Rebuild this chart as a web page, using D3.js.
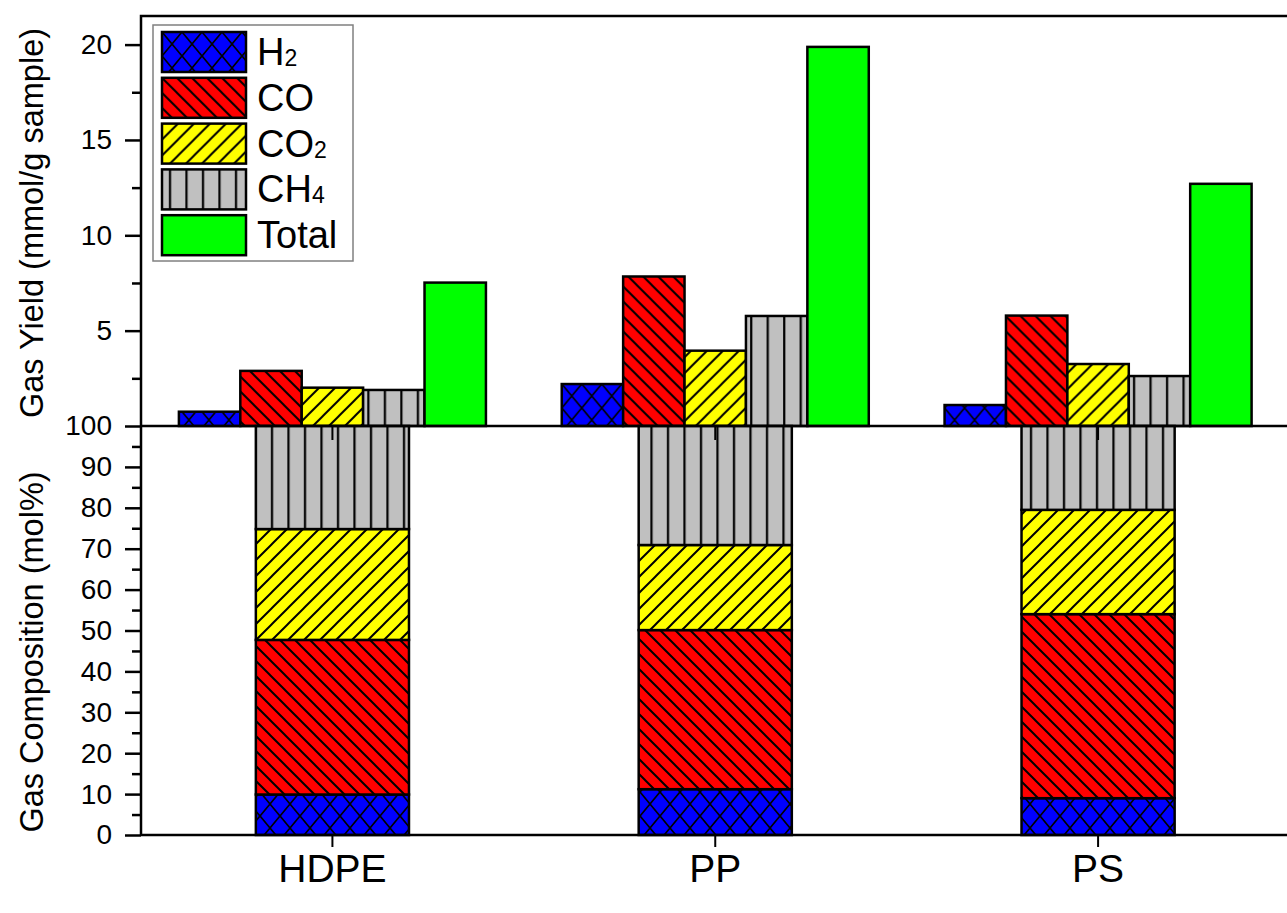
<!DOCTYPE html>
<html>
<head>
<meta charset="utf-8">
<script src="https://cdn.jsdelivr.net/npm/d3@7/dist/d3.min.js"></script>
<style>
  html, body { margin: 0; padding: 0; background: #fff; }
  svg { display: block; font-family: "Liberation Sans", Arial, sans-serif; }
</style>
</head>
<body>
<svg id="chart" width="1287" height="913"></svg>
<script>
// Plastics and gases
const categories = ["HDPE", "PP", "PS"];
const gasKeys = ["H2", "CO", "CO2", "CH4"];
const yieldKeys = ["H2", "CO", "CO2", "CH4", "Total"];

// Gas yield (mmol/g sample)
const yieldH2    = [0.75, 2.20, 1.10];
const yieldCO    = [2.89, 7.84, 5.79];
const yieldCO2   = [2.01, 3.95, 3.25];
const yieldCH4   = [1.89, 5.77, 2.62];
const yieldTotal = [7.52, 19.88, 12.70];

// Gas composition (mol%)
const compH2  = [9.9, 11.2, 9.0];
const compCO  = [37.8, 38.9, 45.0];
const compCO2 = [27.1, 20.8, 25.5];
const compCH4 = [25.2, 29.1, 20.5];

// Axis ticks
const yieldTicks = [5, 10, 15, 20];
const yieldMinor = [2.5, 7.5, 12.5, 17.5];
const compTicks = [0, 10, 20, 30, 40, 50, 60, 70, 80, 90, 100];
const compMinor = [5, 15, 25, 35, 45, 55, 65, 75, 85, 95];

// Legend labels: [main text, subscript]
const legendLabels = [["H", "2"], ["CO", ""], ["CO", "2"], ["CH", "4"], ["Total", ""]];

const yieldTable = categories.map((c, i) => ({
  cat: c, H2: yieldH2[i], CO: yieldCO[i], CO2: yieldCO2[i], CH4: yieldCH4[i], Total: yieldTotal[i]
}));
const compTable = categories.map((c, i) => ({
  cat: c, H2: compH2[i], CO: compCO[i], CO2: compCO2[i], CH4: compCH4[i]
}));

const svg = d3.select("#chart");
const W = 1287, H = 913;

// Frame geometry
const frameL = 141, frameR = 1289.5, frameT = 16, frameM = 426, frameB = 835;

const x = d3.scaleBand().domain(categories).range([frameL, frameR]).padding(0);
const xGroup = d3.scaleBand().domain(yieldKeys).range([0, x.bandwidth() * 0.802]).padding(0);
const stackWidth = x.bandwidth() * 0.40;

const yTop = d3.scaleLinear().domain([0, 21.5]).range([frameM, frameT]);
const yBot = d3.scaleLinear().domain([0, 100]).range([frameB, frameM]);

// Fill patterns
const defs = svg.append("defs");
function pattern(id, w, h, fill, d, sw) {
  const p = defs.append("pattern").attr("id", id)
    .attr("patternUnits", "userSpaceOnUse").attr("width", w).attr("height", h);
  p.append("rect").attr("width", w).attr("height", h).attr("fill", fill);
  if (d) p.append("path").attr("d", d).attr("stroke", "#000").attr("stroke-width", sw).attr("fill", "none");
}
pattern("pat-H2", 20, 24, "#0000ff", "M0,0L20,24M20,0L0,24", 1.7);
pattern("pat-CO", 15, 15, "#ff0000", "M-2,-2L17,17M-2,13L2,17M13,-2L17,2", 2);
pattern("pat-CO2", 16, 16, "#ffff00", "M-2,18L18,-2M-2,2L2,-2M14,18L18,14", 2);
pattern("pat-CH4", 16.5, 10, "#c0c0c0", "M8,-1V11", 2.2);
const fills = { H2: "url(#pat-H2)", CO: "url(#pat-CO)", CO2: "url(#pat-CO2)", CH4: "url(#pat-CH4)", Total: "#00ff00" };

// Top panel: grouped yield bars
const groupOffset = (x.bandwidth() - xGroup.range()[1]) / 2;
svg.append("g").selectAll("g").data(yieldTable).join("g")
  .attr("transform", d => `translate(${x(d.cat) + groupOffset},0)`)
  .selectAll("rect").data(d => yieldKeys.map(k => ({ key: k, value: d[k] }))).join("rect")
  .attr("x", d => xGroup(d.key))
  .attr("y", d => yTop(d.value))
  .attr("width", xGroup.bandwidth())
  .attr("height", d => yTop(0) - yTop(d.value))
  .attr("fill", d => fills[d.key])
  .attr("stroke", "#000").attr("stroke-width", 2.5);

// Bottom panel: stacked composition bars
const stack = d3.stack().keys(gasKeys)(compTable);
svg.append("g").selectAll("g").data(stack).join("g")
  .attr("fill", s => fills[s.key])
  .selectAll("rect").data(s => s).join("rect")
  .attr("x", d => x(d.data.cat) + (x.bandwidth() - stackWidth) / 2)
  .attr("y", d => yBot(d[1]))
  .attr("width", stackWidth)
  .attr("height", d => yBot(d[0]) - yBot(d[1]))
  .attr("stroke", "#000").attr("stroke-width", 2.5);

// Frame lines
const frame = svg.append("g").attr("stroke", "#000").attr("stroke-width", 2.5).attr("fill", "none");
frame.append("path").attr("d", `M${frameL},${frameB}V${frameT}H${W + 5}`);
frame.append("line").attr("x1", frameL).attr("x2", W + 5).attr("y1", frameM).attr("y2", frameM);
frame.append("line").attr("x1", frameL).attr("x2", W + 5).attr("y1", frameB).attr("y2", frameB);

// Y axes
function styleAxis(g) {
  g.select(".domain").remove();
  g.selectAll(".tick line").attr("stroke", "#000").attr("stroke-width", 2.5);
  g.selectAll(".tick text").attr("fill", "#000").attr("font-size", 28)
    .attr("font-family", '"Liberation Sans", Arial, sans-serif');
}
svg.append("g").attr("transform", `translate(${frameL},0)`)
  .call(d3.axisLeft(yTop).tickValues(yieldTicks).tickSize(16).tickPadding(13))
  .call(styleAxis);
svg.append("g").attr("transform", `translate(${frameL},0)`)
  .call(d3.axisLeft(yTop).tickValues(yieldMinor).tickSize(9).tickFormat(""))
  .call(styleAxis);
svg.append("g").attr("transform", `translate(${frameL},0)`)
  .call(d3.axisLeft(yBot).tickValues(compTicks).tickSize(16).tickPadding(13))
  .call(styleAxis);
svg.append("g").attr("transform", `translate(${frameL},0)`)
  .call(d3.axisLeft(yBot).tickValues(compMinor).tickSize(9).tickFormat(""))
  .call(styleAxis);

// X axis at the bottom
const xAxis = svg.append("g").attr("transform", `translate(0,${frameB})`)
  .call(d3.axisBottom(x).tickSize(12).tickPadding(7));
xAxis.select(".domain").remove();
xAxis.selectAll(".tick line").attr("stroke", "#000").attr("stroke-width", 2);
xAxis.selectAll(".tick text").attr("fill", "#000").attr("font-size", 39)
  .attr("font-family", '"Liberation Sans", Arial, sans-serif');

// Category ticks on the upper edge of the composition panel
const xAxisMid = svg.append("g").attr("transform", `translate(0,${frameM})`)
  .call(d3.axisBottom(x).tickSize(14).tickFormat(""));
xAxisMid.select(".domain").remove();
xAxisMid.selectAll(".tick line").attr("stroke", "#000").attr("stroke-width", 2);

// Axis titles
svg.append("text")
  .attr("transform", "translate(43,223) rotate(-90)")
  .attr("text-anchor", "middle").attr("font-size", 32.5).attr("fill", "#000")
  .text("Gas Yield (mmol/g sample)");
svg.append("text")
  .attr("transform", "translate(43,652) rotate(-90)")
  .attr("text-anchor", "middle").attr("font-size", 32.5).attr("fill", "#000")
  .text("Gas Composition (mol%)");

// Legend
const legend = svg.append("g").attr("transform", "translate(153,25)");
legend.append("rect").attr("width", 200).attr("height", 236)
  .attr("fill", "#fff").attr("stroke", "#808080").attr("stroke-width", 1.5);
const items = legend.selectAll("g.item").data(yieldKeys).join("g").attr("class", "item")
  .attr("transform", (d, i) => `translate(9,${7 + i * 45.8})`);
items.append("rect").attr("width", 84).attr("height", 40)
  .attr("fill", d => fills[d]).attr("stroke", "#000").attr("stroke-width", 2.5);
const lt = items.append("text").attr("x", 95).attr("y", 33)
  .attr("font-size", 38).attr("fill", "#000");
lt.append("tspan").text((d, i) => legendLabels[i][0]);
lt.append("tspan").attr("font-size", 23).attr("dy", 1).text((d, i) => legendLabels[i][1]);
</script>
</body>
</html>
